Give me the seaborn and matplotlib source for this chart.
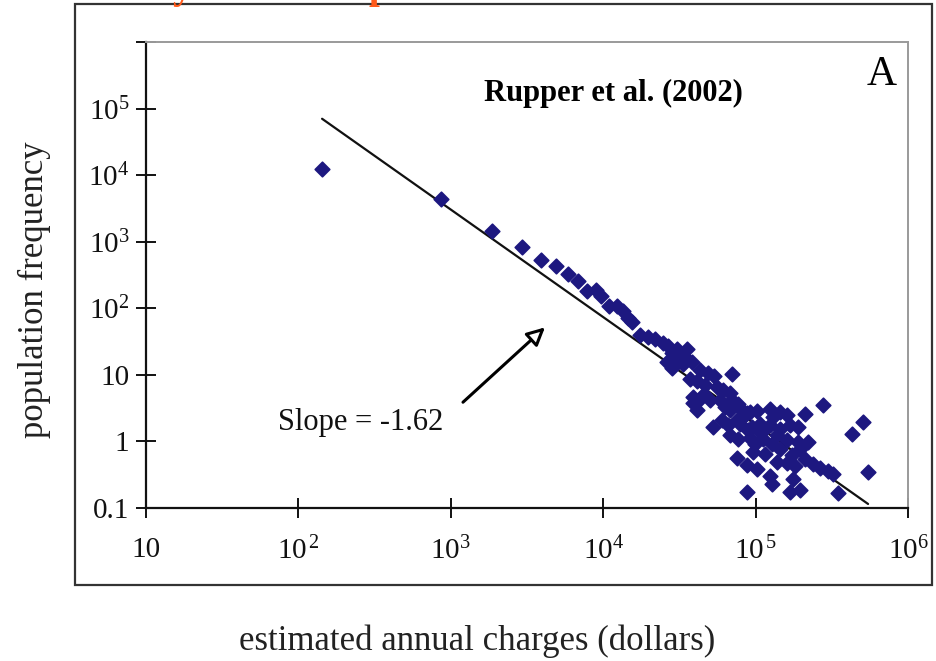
import matplotlib
matplotlib.use("Agg")
import matplotlib.pyplot as plt
import matplotlib.patches as mpatches
import seaborn as sns
import pandas as pd

# ---- data ----
charges = [143, 863, 1860, 2930, 3910, 4900, 5870, 6840, 7830, 8970, 9680, 10900,
           12300, 13500, 14550, 15450, 17420, 19680, 21880, 24660, 26610, 30480,
           35480, 32890, 28250, 35480, 30480, 26240, 33420, 28250, 38280, 43150,
           48750, 53330, 69980, 37150, 41210, 46560, 55850, 61090, 67920, 38820,
           43150, 41210, 38820, 50230, 58340, 69980, 76740, 81470, 67920, 87900,
           102100, 124200, 144500, 160700, 130000, 210900, 276700, 106900, 124200,
           144500, 168300, 189700, 52480, 65920, 75510, 85110, 91840, 67920, 76740,
           91840, 99080, 111900, 128200, 138100, 160700, 189700, 220800, 75510,
           87900, 96160, 115300, 138100, 160700, 181100, 210900, 238200, 264800,
           298500, 322100, 195400, 173400, 124200, 128200, 175800, 87900, 168300,
           195400, 347500, 506700, 429500, 546600, 79070, 102100, 45830, 62950,
           89130, 106900, 60250, 94600, 115300, 144500]
frequency = [12500, 4450, 1470, 847, 523, 425, 322, 253, 179, 185, 151, 107,
             107, 90, 71, 61.5, 39.3, 36.6, 34.2, 29.8, 26.9, 24.2,
             24.2, 19.7, 21.1, 17.1, 17.1, 15.5, 14.4, 12.6, 15.5, 11.7,
             10.6, 9.5, 10.2, 8.6, 8.0, 7.0, 6.5, 5.9, 5.3, 4.6,
             4.3, 2.94, 3.75, 4.2, 4.2, 4.2, 3.6, 2.94, 2.94, 2.65,
             2.84, 3.05, 2.75, 2.48, 2.31, 2.56, 3.5, 1.82, 1.75,
             1.53, 1.75, 1.64, 1.64, 1.75, 2.08, 2.48, 2.75, 1.24, 1.08,
             1.12, 0.91, 1.08, 0.91, 1.24, 1.04, 0.975, 0.975, 0.56,
             0.44, 0.69, 0.645, 0.49, 0.47, 0.43, 0.54, 0.46, 0.40,
             0.36, 0.32, 0.77, 0.62, 0.30, 0.23, 0.27, 0.174, 0.174,
             0.186, 0.168, 1.95, 1.29, 0.35, 1.82, 0.385, 5.1, 3.27,
             1.48, 1.38, 2.08, 1.64, 1.53, 0.77]

fit_x = [143, 547000]
fit_y = [70300, 0.115]

x_ticks = [10, 1e2, 1e3, 1e4, 1e5, 1e6]
x_labels = ["10", r"$\mathregular{10^{\,2}}$", r"$\mathregular{10^{3}}$",
            r"$\mathregular{10^{4}}$", r"$\mathregular{10^{\,5}}$", r"$\mathregular{10^{6}}$"]
y_ticks = [0.1, 1, 10, 1e2, 1e3, 1e4, 1e5, 1e6]
y_labels = ["0.1", "1", "10", r"$\mathregular{10^{2}}$", r"$\mathregular{10^{3}}$",
            r"$\mathregular{10^{4}}$", r"$\mathregular{10^{5}}$", ""]

title_text = "Rupper et al. (2002)"
panel_text = "A"
slope_text = "Slope = -1.62"
x_title = "estimated annual charges (dollars)"
y_title = "population frequency"

# ---- style ----
sns.set_theme(style="white")
plt.rcParams["font.family"] = ["Liberation Serif", "DejaVu Serif"]
plt.rcParams["mathtext.fontset"] = "custom"
plt.rcParams["mathtext.rm"] = "Liberation Serif"
plt.rcParams["mathtext.it"] = "Liberation Serif:italic"
plt.rcParams["mathtext.bf"] = "Liberation Serif:bold"

fig = plt.figure(figsize=(9.36, 6.61), dpi=100)
fig.patch.set_facecolor("white")
ax = fig.add_axes([146 / 936, 1 - 508 / 661, (908 - 146) / 936, (508 - 42) / 661])

df = pd.DataFrame({"charges": charges, "frequency": frequency})
fit = pd.DataFrame({"x": fit_x, "y": fit_y})

sns.lineplot(data=fit, x="x", y="y", ax=ax, color="#111111", linewidth=1.6)
sns.scatterplot(data=df, x="charges", y="frequency", ax=ax, marker="D",
                s=55, color="#1d1880", edgecolor="#1d1880", linewidth=1.2, zorder=3)

ax.set_xscale("log")
ax.set_yscale("log")
ax.set_xlim(10, 1e6)
ax.set_ylim(0.1, 1e6)
ax.set_xticks(x_ticks)
ax.set_xticklabels(x_labels)
ax.set_yticks(y_ticks)
ax.set_yticklabels(y_labels)
ax.minorticks_off()
ax.tick_params(axis="both", which="major", direction="inout", length=14, width=1.4,
               colors="#111111", labelsize=21, left=True, bottom=True)
ax.tick_params(axis="x", pad=14)
ax.tick_params(axis="y", pad=5)
ax.set_xlabel("")
ax.set_ylabel("")
ax.set_facecolor("white")
for side in ["left", "bottom"]:
    ax.spines[side].set_color("#111111")
    ax.spines[side].set_linewidth(1.6)
for side in ["top", "right"]:
    ax.spines[side].set_color("#9a9a9a")
    ax.spines[side].set_linewidth(1.4)

ax.text(0.613, 0.89, title_text, transform=ax.transAxes, ha="center", va="center",
        fontsize=22, fontweight="bold", color="black")
ax.text(0.965, 0.93, panel_text, transform=ax.transAxes, ha="center", va="center",
        fontsize=30, color="black")

ax.annotate("", xy=(4150, 51.7), xytext=(1202, 3.88), xycoords="data",
            arrowprops=dict(arrowstyle="-|>,head_length=0.9,head_width=0.45",
                            facecolor="white", edgecolor="black", lw=2.2,
                            shrinkA=0, shrinkB=0))
ax.text(73.5, 1.95, slope_text, ha="left", va="center", fontsize=22, color="#111111")

# outer frame
fig.patches.append(mpatches.Rectangle((75 / 936, 1 - 585 / 661), (932 - 75) / 936,
                                      (585 - 4) / 661, transform=fig.transFigure,
                                      fill=False, edgecolor="#333333", linewidth=1.6))

fig.text(0.037, 1 - 290 / 661, y_title, rotation=90, ha="center", va="center",
         fontsize=25, color="#222222")
fig.text(477 / 936, 1 - 641 / 661, x_title, ha="center", va="center",
         fontsize=25, color="#222222")

# cut-off fragments of an orange heading above the frame (as in the reference)
fig.text(182 / 936, 1 + 2 / 661, "y", ha="center", va="baseline", fontsize=28,
         fontweight="bold", color="#ff5a1a")
fig.text(379 / 936, 1 + 2 / 661, "p", ha="center", va="baseline", fontsize=28,
         fontweight="bold", color="#ff5a1a")

fig.savefig("out.png", dpi=100)
